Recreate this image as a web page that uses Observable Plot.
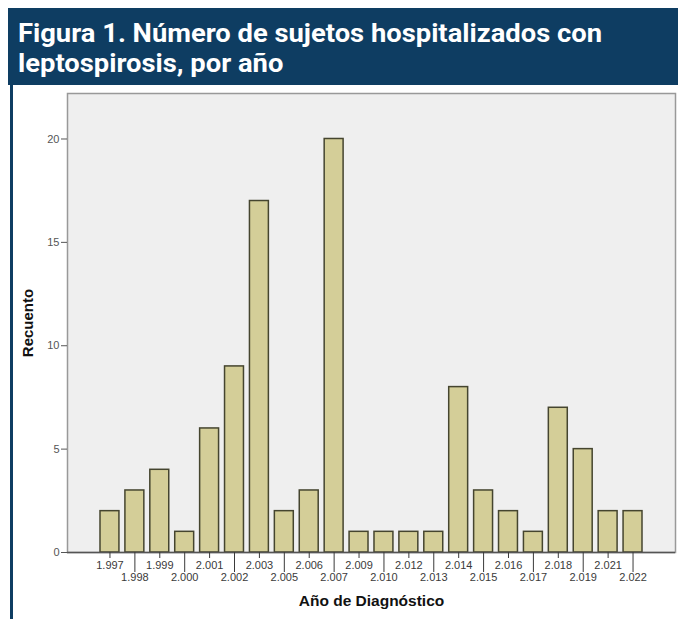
<!DOCTYPE html>
<html>
<head>
<meta charset="utf-8">
<script src="https://cdn.jsdelivr.net/npm/d3@7"></script>
<script src="https://cdn.jsdelivr.net/npm/@observablehq/plot@0.6"></script>
<style>
  html, body { margin: 0; padding: 0; background: #fff; }
  #wrap { position: relative; width: 678px; height: 619px; overflow: hidden; background: #fff; }
  #hdr { position: absolute; left: 8px; top: 8px; width: 670px; height: 77px; background: #0e3d62; }
  .tl { position: absolute; left: 10px; white-space: nowrap; color: #fff; font-family: Roboto, "Liberation Sans", sans-serif; font-weight: 700; font-size: 26px; line-height: 26px; transform-origin: 0 0; }
  #leftline { position: absolute; left: 10px; top: 85px; width: 2.5px; height: 534px; background: #0e3d62; }
  #chart { position: absolute; left: 0; top: 85px; }
</style>
</head>
<body>
<div id="wrap">
  <div id="hdr">
    <div class="tl" id="t1" style="top:12px">Figura 1. Número de sujetos hospitalizados con</div>
    <div class="tl" id="t2" style="top:42px">leptospirosis, por año</div>
  </div>
  <div id="leftline"></div>
  <div id="chart"></div>
</div>
<script>
const years = [1997, 1998, 1999, 2000, 2001, 2002, 2003, 2005, 2006, 2007, 2009, 2010, 2012, 2013, 2014, 2015, 2016, 2017, 2018, 2019, 2021, 2022];
const counts = [2, 3, 4, 1, 6, 9, 17, 2, 3, 20, 1, 1, 1, 1, 8, 3, 2, 1, 7, 5, 2, 2];
const yTicks = [0, 5, 10, 15, 20];
const yLabel = "Recuento";
const xLabel = "Año de Diagnóstico";

const data = years.map((y, i) => ({year: String(y), count: counts[i]}));
const fmt = d => d.slice(0, 1) + "." + d.slice(1);
const topRow = years.filter((_, i) => i % 2 === 0).map(String);
const bottomRow = years.filter((_, i) => i % 2 === 1).map(String);

// fit title width
const t1 = document.getElementById("t1"), t2 = document.getElementById("t2");
const s = 584 / t1.getBoundingClientRect().width;
t1.style.transform = `scaleX(${s})`;
t2.style.transform = `scaleX(${s})`;

const chart = Plot.plot({
  width: 678,
  height: 534,
  marginLeft: 67,
  marginRight: 3,
  marginTop: 8,
  marginBottom: 67,
  style: {fontFamily: "'Liberation Sans', Arial, sans-serif", fontSize: "11px", color: "#333", background: "transparent"},
  x: {domain: years.map(String), paddingInner: 0.24, paddingOuter: 1.325, round: false},
  y: {domain: [0, 22.2]},
  marks: [
    Plot.frame({fill: "#efefef", stroke: "#999", strokeWidth: 1.5}),
    Plot.barY(data, {x: "year", y: "count", fill: "#d4ce98", stroke: "#45452f", strokeWidth: 1.5}),
    Plot.ruleY([0], {stroke: "#555", strokeWidth: 1.5}),
    Plot.axisY(yTicks, {tickSize: 6, tickPadding: 2, label: null, color: "#555", fontSize: 11}),
    Plot.axisX(topRow, {tickSize: 6, tickPadding: 3, tickFormat: fmt, label: null, color: "#3a3a3a", fontSize: 11}),
    Plot.axisX(bottomRow, {tickSize: 20, tickPadding: 1, tickFormat: fmt, label: null, color: "#3a3a3a", fontSize: 11}),
    Plot.text([yLabel], {frameAnchor: "left", textAnchor: "middle", dx: -39, rotate: -90, fontWeight: "bold", fontSize: 15, fill: "#111"}),
    Plot.text([xLabel], {frameAnchor: "bottom", textAnchor: "middle", dy: 53, fontWeight: "bold", fontSize: 15.5, fill: "#111"})
  ]
});
document.getElementById("chart").appendChild(chart);
</script>
</body>
</html>
